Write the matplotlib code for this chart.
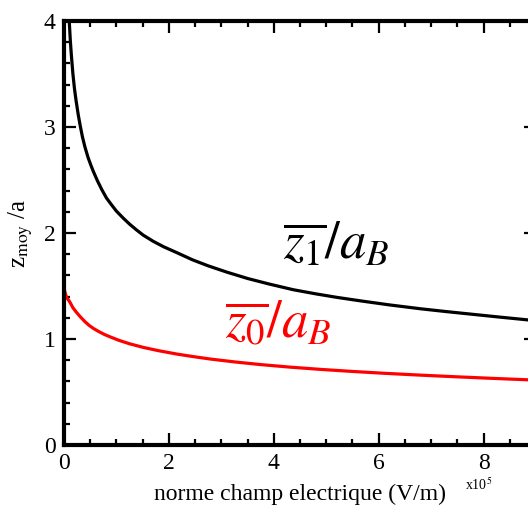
import matplotlib
matplotlib.use("Agg")
import matplotlib.pyplot as plt
from matplotlib.ticker import MultipleLocator

plt.rcParams['font.family'] = ['Liberation Serif', 'DejaVu Serif']
plt.rcParams['mathtext.fontset'] = 'stix'

# Data (field in units of 1e5 V/m)
black_x = [0.08, 0.10, 0.12, 0.14, 0.17, 0.20, 0.23, 0.27, 0.31, 0.35, 0.40, 0.46, 0.52,
           0.56, 0.64, 0.72, 0.81, 0.90, 1.00, 1.13, 1.25, 1.38, 1.51, 1.70, 1.90, 2.15,
           2.45, 2.75, 3.11, 3.50, 3.90, 4.37, 4.80, 5.20, 5.65, 6.20, 6.80, 7.30, 7.75,
           8.30, 8.85, 9.00]
black_y = [4.23, 4.00, 3.82, 3.68, 3.50, 3.36, 3.25, 3.12, 3.01, 2.91, 2.81, 2.71, 2.63,
           2.58, 2.49, 2.41, 2.33, 2.27, 2.206, 2.14, 2.084, 2.03, 1.98, 1.922, 1.87, 1.815,
           1.747, 1.69, 1.63, 1.571, 1.52, 1.465, 1.426, 1.393, 1.36, 1.322, 1.285, 1.258,
           1.235, 1.207, 1.18, 1.173]
red_x = [0.00, 0.01, 0.03, 0.06, 0.11, 0.17, 0.24, 0.31, 0.40, 0.48, 0.56, 0.66, 0.77,
         0.88, 1.05, 1.25, 1.51, 1.80, 2.15, 2.45, 2.79, 3.25, 3.74, 4.30, 4.90, 5.50,
         6.09, 6.80, 7.50, 8.20, 8.85, 9.00]
red_y = [1.50, 1.46, 1.42, 1.385, 1.35, 1.295, 1.25, 1.21, 1.163, 1.128, 1.10, 1.071, 1.043,
         1.02, 0.987, 0.955, 0.921, 0.890, 0.858, 0.835, 0.811, 0.784, 0.759, 0.735, 0.713,
         0.694, 0.677, 0.659, 0.643, 0.628, 0.615, 0.612]

x_ticks = [0, 2, 4, 6, 8]
y_ticks = [0, 1, 2, 3, 4]

fig = plt.figure(figsize=(5.28, 5.09), dpi=100)
W, H = 528, 509
L, R, T, B = 64, 536, 21, 445
ax = fig.add_axes([L / W, 1 - B / H, (R - L) / W, (B - T) / H])

ax.plot(black_x, black_y, color='black', lw=2.3, solid_capstyle='butt',
        solid_joinstyle='round')
ax.plot(red_x, red_y, color='red', lw=2.3, solid_capstyle='butt',
        solid_joinstyle='round')

ax.set_xlim(0, 9)
ax.set_ylim(0, 4)
ax.set_xticks(x_ticks)
ax.set_yticks(y_ticks)
ax.xaxis.set_minor_locator(MultipleLocator(0.5))
ax.yaxis.set_minor_locator(MultipleLocator(0.2))
ax.tick_params(which='both', direction='in', top=True, right=True, width=1.6,
               labelsize=17)
ax.tick_params(which='major', length=8.5, pad=6)
ax.tick_params(which='minor', length=4.5)
for s in ax.spines.values():
    s.set_linewidth(3)

ax.set_xlabel('norme champ electrique (V/m)', fontsize=17, labelpad=7)
ax.set_ylabel(r'z$_{\mathrm{moy}}$ /a', fontsize=18, labelpad=6)

fig.text(465 / W, 1 - 490 / H, r'x10$^5$', fontsize=10)

ax.text(4.18, 1.88, r'$\overline{z_1}/a_B$', fontsize=38, color='black',
        ha='left', va='center')
ax.text(3.07, 1.15, r'$\overline{z_0}/a_B$', fontsize=38, color='red',
        ha='left', va='center')

fig.savefig('out.png', dpi=100)
